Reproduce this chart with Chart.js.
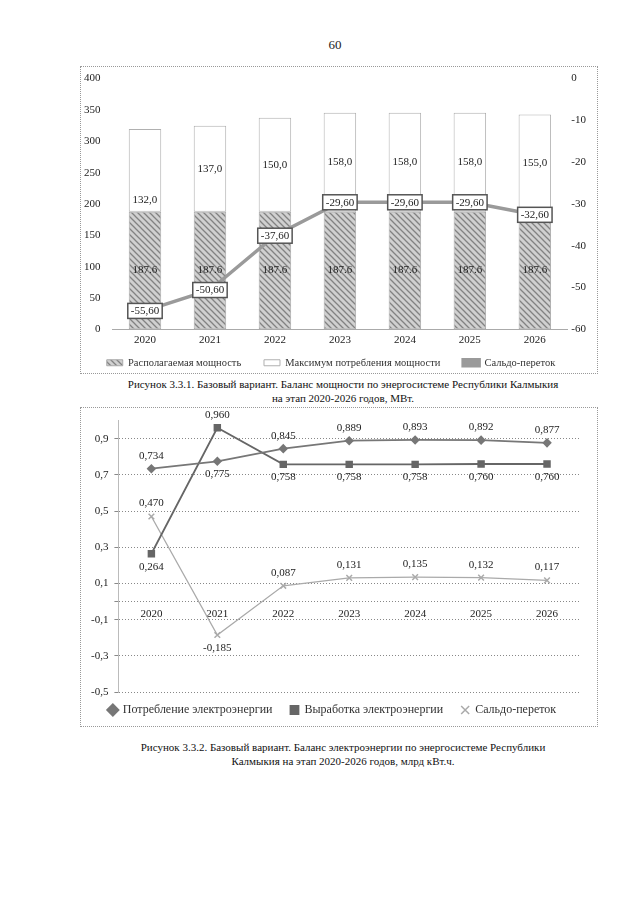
<!DOCTYPE html>
<html lang="ru">
<head>
<meta charset="utf-8">
<script src="https://cdn.jsdelivr.net/npm/chart.js@4.4.1/dist/chart.umd.min.js"></script>
<style>
body { margin: 0; background: #fff; width: 640px; height: 905px; position: relative; font-family: "Liberation Serif", serif; color: #222; }
#page { position: absolute; left: 0; top: 37px; width: 670px; text-align: center; font-size: 13px; }
.box { position: absolute; left: 80px; width: 516px; border: 1px dotted #999; }
#box1 { top: 66px; height: 306px; }
#box2 { top: 407px; height: 318px; }
.inner { position: absolute; left: 0; right: 0; bottom: 0; }
#inner1 { top: -7px; }
#inner2 { top: 0; }
.cap { position: absolute; left: 73px; width: 540px; text-align: center; font-size: 11px; line-height: 14px; color: #111; }
#cap1 { top: 377px; }
#cap2 { top: 740px; }
</style>
</head>
<body>
<div id="page">60</div>
<div class="box" id="box1"><div class="inner" id="inner1"><canvas id="chart1"></canvas></div></div>
<div class="cap" id="cap1">Рисунок 3.3.1. Базовый вариант. Баланс мощности по энергосистеме Республики Калмыкия<br>на этап 2020-2026 годов, МВт.</div>
<div class="box" id="box2"><div class="inner" id="inner2"><canvas id="chart2"></canvas></div></div>
<div class="cap" id="cap2">Рисунок 3.3.2. Базовый вариант. Баланс электроэнергии по энергосистеме Республики<br>Калмыкия на этап 2020-2026 годов, млрд кВт.ч.</div>

<script>
// data, chart 1 (МВт)
const years = ['2020', '2021', '2022', '2023', '2024', '2025', '2026'];
const availPower = [187.6, 187.6, 187.6, 187.6, 187.6, 187.6, 187.6];
const maxLoad = [132.0, 137.0, 150.0, 158.0, 158.0, 158.0, 155.0];
const powerFlow = [-55.6, -50.6, -37.6, -29.6, -29.6, -29.6, -32.6];

// data, chart 2 (млрд кВт.ч)
const consumption = [0.734, 0.775, 0.845, 0.889, 0.893, 0.892, 0.877];
const generation = [0.264, 0.960, 0.758, 0.758, 0.758, 0.760, 0.760];
const energyFlow = [0.470, -0.185, 0.087, 0.131, 0.135, 0.132, 0.117];
const energyTicks = [-0.5, -0.3, -0.1, 0, 0.1, 0.3, 0.5, 0.7, 0.9];

const serif = '"Liberation Serif", serif';
const comma = (v, d) => v.toFixed(d).replace('.', ',');

function hatch() {
    const c = document.createElement('canvas');
    c.width = 6; c.height = 6;
    const g = c.getContext('2d');
    g.fillStyle = '#d0d0d0';
    g.fillRect(0, 0, 6, 6);
    g.strokeStyle = '#828282';
    g.lineWidth = 1.3;
    g.beginPath();
    g.moveTo(0, 0); g.lineTo(6, 6);
    g.moveTo(5, -1); g.lineTo(7, 1);
    g.moveTo(-1, 5); g.lineTo(1, 7);
    g.stroke();
    return g.createPattern(c, 'repeat');
}

// legend items keep their dataset order, with some air between them
function spacedLabels(gap) {
    return chart => {
        const items = Chart.defaults.plugins.legend.labels.generateLabels(chart)
            .sort((a, b) => a.datasetIndex - b.datasetIndex);
        items.forEach((l, i) => { if (i < items.length - 1) l.text += gap; });
        return items;
    };
}

const labels1 = {
    id: 'labels1',
    afterDatasetsDraw(chart) {
        const ctx = chart.ctx;
        ctx.save();
        ctx.font = '11px ' + serif;
        ctx.textAlign = 'center';
        ctx.textBaseline = 'middle';
        chart.data.datasets.forEach((ds, di) => {
            const meta = chart.getDatasetMeta(di);
            meta.data.forEach((el, i) => {
                const v = ds.data[i];
                if (meta.type === 'bar') {
                    let y = (el.y + el.base) / 2;
                    // the first top label sits low in the original
                    if (di === 1 && i === 0) y = el.base - 12;
                    const t = di === 0 ? v.toFixed(1) : comma(v, 1);
                    ctx.fillStyle = '#222';
                    ctx.fillText(t, el.x, y);
                } else {
                    const t = comma(v, 2);
                    const w = ctx.measureText(t).width + 6, h = 15;
                    ctx.fillStyle = '#fff';
                    ctx.fillRect(el.x - w / 2, el.y - h / 2, w, h);
                    ctx.strokeStyle = '#555';
                    ctx.lineWidth = 1.5;
                    ctx.strokeRect(el.x - w / 2, el.y - h / 2, w, h);
                    ctx.fillStyle = '#222';
                    ctx.fillText(t, el.x, el.y + 0.5);
                }
            });
        });
        ctx.restore();
    }
};

new Chart(document.getElementById('chart1'), {
    type: 'bar',
    data: {
        labels: years,
        datasets: [
            {
                label: 'Располагаемая мощность',
                data: availPower,
                backgroundColor: hatch(),
                borderColor: '#aaa',
                borderWidth: 1,
                borderSkipped: false,
                barPercentage: 0.5,
                categoryPercentage: 1,
                stack: 'p',
                order: 1
            },
            {
                label: 'Максимум потребления мощности',
                data: maxLoad,
                backgroundColor: '#fff',
                borderColor: '#b0b0b0',
                borderWidth: 1,
                borderSkipped: false,
                barPercentage: 0.5,
                categoryPercentage: 1,
                stack: 'p',
                order: 2
            },
            {
                type: 'line',
                label: 'Сальдо-переток',
                data: powerFlow,
                yAxisID: 'y1',
                borderColor: '#9a9a9a',
                backgroundColor: '#9a9a9a',
                borderWidth: 3.5,
                pointRadius: 0,
                order: 0
            }
        ]
    },
    options: {
        responsive: true,
        maintainAspectRatio: false,
        animation: false,
        layout: { padding: { left: -9, right: 7, top: 0, bottom: -5 } },
        plugins: {
            tooltip: { enabled: false },
            legend: {
                position: 'bottom',
                labels: {
                    font: { family: serif, size: 10.5 },
                    color: '#333',
                    boxWidth: 16,
                    boxHeight: 6,
                    padding: 7,
                    generateLabels: spacedLabels('\u2003\u2002')
                }
            }
        },
        scales: {
            x: {
                stacked: true,
                grid: { display: false, drawTicks: false },
                border: { color: '#aaa' },
                ticks: { font: { family: serif, size: 11 }, color: '#222', padding: 4 }
            },
            y: {
                stacked: true,
                min: 0,
                max: 400,
                ticks: { stepSize: 50, font: { family: serif, size: 11 }, color: '#222', padding: 12 },
                grid: { display: false, drawTicks: false },
                border: { display: false }
            },
            y1: {
                position: 'right',
                min: -60,
                max: 0,
                ticks: { stepSize: 10, font: { family: serif, size: 11 }, color: '#222', padding: 4 },
                grid: { display: false, drawTicks: false },
                border: { display: false }
            }
        }
    },
    plugins: [labels1]
});

// where each value label goes: 1 above the point, -1 below
const place2 = [
    [1, -1, 1, 1, 1, 1, 1],
    [-1, 1, -1, -1, -1, -1, -1],
    [1, -1, 1, 1, 1, 1, 1]
];

const labels2 = {
    id: 'labels2',
    afterDatasetsDraw(chart) {
        const ctx = chart.ctx;
        ctx.save();
        ctx.font = '11px ' + serif;
        ctx.textAlign = 'center';
        ctx.textBaseline = 'middle';
        ctx.fillStyle = '#222';
        chart.data.datasets.forEach((ds, di) => {
            chart.getDatasetMeta(di).data.forEach((el, i) => {
                ctx.fillText(comma(ds.data[i], 3), el.x, el.y - 13 * place2[di][i]);
            });
        });
        ctx.restore();
    }
};

new Chart(document.getElementById('chart2'), {
    type: 'line',
    data: {
        labels: years,
        datasets: [
            {
                label: 'Потребление электроэнергии',
                data: consumption,
                borderColor: '#777',
                backgroundColor: '#777',
                borderWidth: 1.8,
                pointStyle: 'rectRot',
                pointRadius: 3.5
            },
            {
                label: 'Выработка электроэнергии',
                data: generation,
                borderColor: '#666',
                backgroundColor: '#666',
                borderWidth: 1.8,
                pointStyle: 'rect',
                pointRadius: 4
            },
            {
                label: 'Сальдо-переток',
                data: energyFlow,
                borderColor: '#aaa',
                backgroundColor: '#aaa',
                borderWidth: 1.3,
                pointStyle: 'crossRot',
                pointRadius: 4,
                pointBorderWidth: 1.5
            }
        ]
    },
    options: {
        responsive: true,
        maintainAspectRatio: false,
        animation: false,
        layout: { padding: { left: 4, right: 17, top: 12, bottom: 0 } },
        plugins: {
            tooltip: { enabled: false },
            legend: {
                position: 'bottom',
                labels: {
                    font: { family: serif, size: 12 },
                    color: '#333',
                    usePointStyle: true,
                    boxWidth: 8,
                    boxHeight: 8,
                    padding: 12,
                    generateLabels: spacedLabels('\u2002')
                }
            }
        },
        scales: {
            x: {
                position: { y: 0 },
                offset: true,
                grid: { display: false, drawTicks: false },
                border: { display: false },
                ticks: { font: { family: serif, size: 11 }, color: '#222', padding: 6 }
            },
            y: {
                min: -0.5,
                max: 1.0,
                afterBuildTicks: scale => {
                    scale.ticks = energyTicks.map(v => ({ value: v }));
                },
                ticks: {
                    font: { family: serif, size: 11 },
                    color: '#222',
                    padding: 6,
                    callback: v => (v === 0 ? '' : comma(v, 1))
                },
                grid: { color: '#888', lineWidth: 1, tickLength: 4 },
                border: { color: '#bbb', dash: [1, 2] }
            }
        }
    },
    plugins: [labels2]
});
</script>
</body>
</html>
